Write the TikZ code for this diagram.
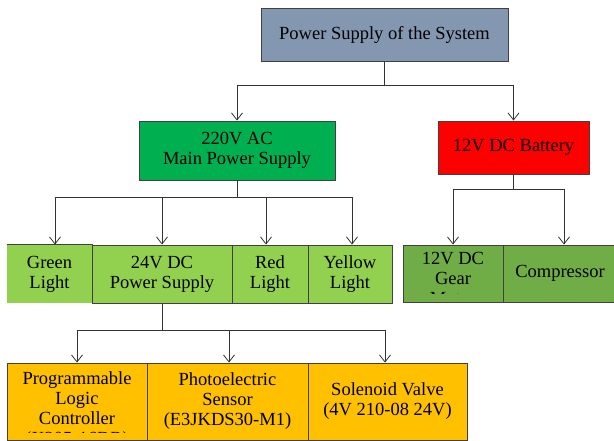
\documentclass[tikz,border=0pt]{standalone}
\usepackage{fontspec}
\setmainfont{Liberation Serif}
\setsansfont{Liberation Serif}
\usetikzlibrary{arrows.meta}
\definecolor{slate}{RGB}{132,151,176}
\definecolor{acgreen}{RGB}{0,176,80}
\definecolor{batred}{RGB}{255,0,0}
\definecolor{lightgr}{RGB}{146,208,80}
\definecolor{darkgr}{RGB}{112,173,71}
\definecolor{amber}{RGB}{255,192,0}

\begin{document}
\begin{tikzpicture}[x=1pt, y=-1pt,
        box/.style={draw=black!75, line width=0.9pt, align=center, inner sep=0pt,
            font=\rmfamily\fontsize{18.5}{20}\selectfont},
        feed/.style={draw=black!80, line width=0.8pt},
        tip/.style={feed, -{Straight Barb[length=7pt,width=11pt]}}]
            \useasboundingbox (0,0) rectangle (614,441);

            \node[box, fill=slate, minimum width=247, minimum height=53] (sys) at (384.5,34.5) {Power Supply of the System};
            \node[box, fill=acgreen, minimum width=196, minimum height=59] (ac) at (237,150.5) {220V AC\\Main Power Supply};
            \node[box, fill=batred, minimum width=151, minimum height=53] (bat) at (513.5,147.5) {12V DC Battery};

            % loads of the 220V AC supply
            \node[box, draw=none, fill=lightgr, minimum width=85, minimum height=58] (green) at (49.5,274) {Green\\Light};
            \draw[black!75, line width=0.9pt] (green.north west) -- (green.north east) -- (green.south east);
            \node[box, fill=lightgr, minimum width=140, minimum height=58] (dc) at (162,274) {24V DC\\Power Supply};
            \node[box, fill=lightgr, minimum width=76, minimum height=58] (red) at (270,274) {Red\\Light};
            \node[box, fill=lightgr, minimum width=84, minimum height=58] (yellow) at (350,274) {Yellow\\Light};

            % loads of the battery
            \node[box, fill=darkgr, minimum width=100, minimum height=57] (gear) at (453,273.5) {};
            \begin{scope}
                \clip (gear.north west) rectangle ([yshift=9pt]gear.south east);
                \node[box, draw=none] (geartext) at (453,278.75) {12V DC\\Gear\\Motor};
            \end{scope}
            \node[box, fill=darkgr, minimum width=114, minimum height=57] (comp) at (560,273.5) {Compressor};

            % loads of the 24V DC supply
            \node[box, fill=amber, minimum width=140, minimum height=77] (plc) at (77,401.5) {};
            \begin{scope}
                \clip (plc.north west) rectangle ([yshift=8pt]plc.south east);
                \node[box, draw=none] (plctext) at (77,410.35) {Programmable\\Logic\\Controller\\(X205-16DR)};
            \end{scope}
            \node[box, fill=amber, minimum width=161, minimum height=77] (sensor) at (227.5,401.5) {Photoelectric\\Sensor\\(E3JKDS30-M1)};
            \node[box, fill=amber, minimum width=159, minimum height=77] (valve) at (387.5,401.5) {Solenoid Valve\\(4V 210-08 24V)};

            \draw[feed] (sys.south) -- ++(0,24) coordinate (sysfork);
            \draw[tip] (sysfork) -| (ac.north);
            \draw[tip] (sysfork) -| (bat.north);

            \draw[feed] (ac.south) -- ++(0,17) coordinate (acfork);
            \draw[tip] (acfork) -| ([xshift=5.5pt]green.north);
            \draw[tip] (acfork) -| (dc.north);
            \draw[tip] (acfork) -| ([xshift=-4pt]red.north);
            \draw[tip] (acfork) -| ([xshift=2pt]yellow.north);

            \draw[feed] (bat.south) -- ++(0,15) coordinate (batfork);
            \draw[tip] (batfork) -| (gear.north);
            \draw[tip] (batfork) -| ([xshift=4pt]comp.north);

            \draw[feed] (dc.south) -- ++(0,27) coordinate (dcfork);
            \draw[tip] (dcfork) -| (plc.north);
            \draw[tip] (dcfork) -| ([xshift=1.5pt]sensor.north);
            \draw[tip] (dcfork) -| ([xshift=-2.5pt]valve.north);
\end{tikzpicture}
\end{document}
